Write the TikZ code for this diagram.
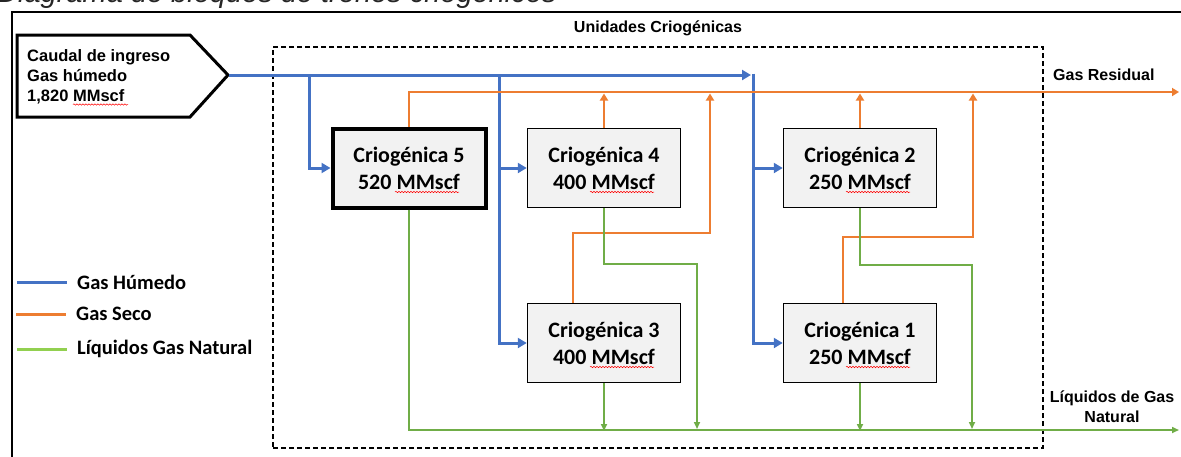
\documentclass[tikz,border=0pt]{standalone}
\usepackage{fontspec}
\setmainfont{Liberation Sans}
\newfontfamily\calibri{Carlito}
\usetikzlibrary{arrows.meta,decorations.pathmorphing}
\definecolor{wetblue}{HTML}{4472C4}
\definecolor{dryorange}{HTML}{ED7D31}
\definecolor{nglgreen}{HTML}{70AD47}
\definecolor{leggreen}{HTML}{92D050}
\definecolor{boxgray}{HTML}{F2F2F2}
\tikzset{
  wetline/.style={draw=wetblue, line width=3pt},
  dryline/.style={draw=dryorange, line width=2.5pt},
  nglline/.style={draw=nglgreen, line width=1.6pt},
  wetarrow/.style={wetline, -{Triangle[length=9pt,width=10pt]}},
  dryarrow/.style={dryline, -{Triangle[length=7pt,width=8pt]}},
  nglarrow/.style={nglline, -{Triangle[length=7pt,width=6pt]}},
  unitbox/.style={draw=black, line width=1.5pt, fill=boxgray, minimum width=153pt, minimum height=79pt,
    align=center, font=\calibri\bfseries\fontsize{22}{27}\selectfont, inner sep=0pt},
  lbl/.style={font=\bfseries\fontsize{16}{20}\selectfont, inner sep=0pt},
  legtext/.style={font=\calibri\bfseries\fontsize{20.5}{24}\selectfont, anchor=west, inner sep=0pt},
  spell/.style={draw=red, line width=0.5pt, decorate, decoration={snake, amplitude=0.7pt, segment length=3pt}},
}
\begin{document}
\begin{tikzpicture}[x=1pt,y=-1pt]
\useasboundingbox (0,0) rectangle (1181,456);
\clip (0,0) rectangle (1181,456);
% caption (cut off at top, as in the reference)
\node[anchor=base west, inner sep=0pt, font=\itshape\fontsize{29}{30}\selectfont, text=black!85] (caption) at (-3,2) {Diagrama de bloques de trenes criogénicos};
% outer frame
\draw[line width=2pt] (12,470) -- (12,12) -- (1200,12);
% dashed cryogenic area
\node[draw, line width=1.5pt, dash pattern=on 5pt off 3pt, minimum width=770pt, minimum height=401pt, inner sep=0pt] (area) at (658,247.5) {};
\node[lbl, font=\bfseries\fontsize{16}{19}\selectfont] (areatitle) at (658,28) {Unidades Criogénicas};
% source pentagon
\draw[line width=3pt, line join=miter] (17,35) -- (190,35) -- (228,75) -- (190,117) -- (17,117) -- cycle;
\coordinate (src) at (229,75);
\node[lbl, anchor=west, align=left, font=\bfseries\fontsize{16.5}{20}\selectfont] (srctext) at (27,77) {Caudal de ingreso\\Gas húmedo\\1,820 MMscf};
\draw[spell] (73,104.5) -- (128,104.5);
% units
\node[unitbox, line width=4pt] (c5) at (409,168) {Criogénica 5\\520 MMscf};
\node[unitbox] (c4) at (604,168) {Criogénica 4\\400 MMscf};
\node[unitbox] (c2) at (860,168) {Criogénica 2\\250 MMscf};
\node[unitbox] (c3) at (604,343) {Criogénica 3\\400 MMscf};
\node[unitbox] (c1) at (860,343) {Criogénica 1\\250 MMscf};
\foreach \u in {c5,c4,c2,c3,c1}{
  \draw[spell] ([xshift=-14pt,yshift=-24pt]\u.center) -- ([xshift=50pt,yshift=-24pt]\u.center);
}
% wet gas
\coordinate (j1) at (309,75);
\coordinate (j2) at (499,75);
\coordinate (j3) at (753,73.5);
\draw[wetarrow] (src) -- (751,75);
\draw[wetarrow] (j1) |- (c5.west);
\draw[wetarrow] (j2) |- (c3.west);
\draw[wetarrow] (j2 |- c4.west) -- (c4.west);
\draw[wetarrow] (j3) |- (c1.west);
\draw[wetarrow] (j3 |- c2.west) -- (c2.west);
% dry gas
\coordinate (gres) at (1179,92);
\draw[dryarrow] (c5.north) |- (gres);
\draw[dryarrow] (c4.north) -- ([yshift=-1.5pt]c4.north |- gres);
\draw[dryarrow] (c2.north) -- ([yshift=-1.5pt]c2.north |- gres);
\draw[dryarrow] ([xshift=-31pt]c3.north) |- (710,233) -- (710,93.5);
\draw[dryarrow] ([xshift=-17pt]c1.north) |- (973,237) -- (973,93.5);
\node[lbl, anchor=west] (gresl) at (1053,75) {Gas Residual};
% NGL
\coordinate (ngl) at (1179,430);
\draw[nglarrow] (c5.south) |- (ngl);
\draw[nglarrow] (c4.south) |- (697,264) -- (697,429);
\draw[nglarrow] (c3.south) -- ([yshift=-1pt]c3.south |- ngl);
\draw[nglarrow] (c2.south) |- (972,265) -- (972,429);
\draw[nglarrow] (c1.south) -- ([yshift=-1pt]c1.south |- ngl);
\node[lbl, align=center] (ngll) at (1112,407) {Líquidos de Gas\\Natural};
% legend
\coordinate (lw1) at (17,282); \coordinate (lw2) at (67,282);
\coordinate (ld1) at (16,314); \coordinate (ld2) at (66,314);
\coordinate (ln1) at (17,349); \coordinate (ln2) at (67,349);
\draw[wetline] (lw1) -- (lw2);
\draw[dryline, line width=3pt] (ld1) -- (ld2);
\draw[line width=3pt, draw=leggreen] (ln1) -- (ln2);
\node[legtext] (legw) at (77,282) {Gas Húmedo};
\node[legtext] (legd) at (76,314) {Gas Seco};
\node[legtext] (legn) at (77,349) {Líquidos Gas Natural};
\end{tikzpicture}
\end{document}
